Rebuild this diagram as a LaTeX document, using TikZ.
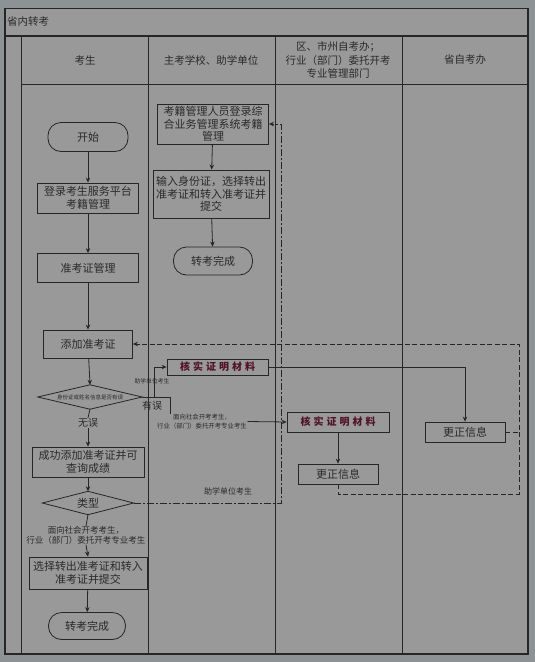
\documentclass[tikz,border=0pt]{standalone}
\usepackage{fontspec}
\setmainfont{Noto Sans CJK SC}
\usetikzlibrary{arrows.meta}
\definecolor{outbg}{RGB}{141,147,149}
\definecolor{inbg}{RGB}{153,153,153}
\definecolor{ln}{RGB}{38,38,38}
\definecolor{tx}{RGB}{42,42,42}
\definecolor{redt}{RGB}{80,18,38}
\newcommand{\fsz}[2]{\fontsize{#1pt}{#2pt}\selectfont}
\begin{document}
\begin{tikzpicture}[x=1pt,y=-1pt,
  every node/.style={text=tx},
  box/.style={draw=ln, line width=0.8pt, align=center, inner sep=1pt, font=\fsz{11}{12.5}},
  term/.style={box, rounded corners=13pt},
  dec/.style={inner sep=0pt, align=center},
  redbox/.style={draw=ln, line width=0.8pt, inner sep=1pt, font=\fsz{10}{12}\bfseries, text=redt},
  lbl/.style={align=center, inner sep=0.5pt},
  arr/.style={draw=ln, line width=0.8pt, -{Stealth[length=5pt,width=4.5pt]}},
  lin/.style={draw=ln, line width=0.8pt},
  dsh/.style={draw=ln, line width=0.9pt, dash pattern=on 5pt off 2.5pt},
  dshd/.style={draw=ln, line width=0.9pt, dash pattern=on 7pt off 2pt on 2pt off 2pt},
  lane/.style={draw=ln, line width=0.9pt}
]
\useasboundingbox (0,0) rectangle (535,662);
\fill[outbg] (0,0) rectangle (535,662);
\fill[inbg] (5,8.5) rectangle (528,654);
% frame and lanes
\draw[lane, line width=1.1pt] (5,8.5) rectangle (528,654);
\draw[lane, line width=1.1pt] (5,36) -- (528,36);
\draw[lane] (21,84) -- (528,84);
\foreach \xx in {21,148,275,402} \draw[lane] (\xx,36) -- (\xx,654);
\node[anchor=west, font=\fsz{10.5}{12}, inner sep=0pt] (title) at (7,22) {省内转考};
% headers
\node[lbl, font=\fsz{10.5}{13}] (h1) at (85,60) {考生};
\node[lbl, font=\fsz{10.5}{13}] (h2) at (211,60) {主考学校、助学单位};
\node[lbl, font=\fsz{10.5}{13.5}] (h3) at (338,60) {区、市州自考办；\\行业（部门）委托开考\\专业管理部门};
\node[lbl, font=\fsz{10.5}{13}] (h4) at (465,60) {省自考办};

% lane 1
\node[term, minimum width=80pt, minimum height=29pt] (start) at (88,137) {开始};
\node[box, minimum width=101pt, minimum height=30pt] (login) at (88,198) {登录考生服务平台\\考籍管理};
\node[box, minimum width=101pt, minimum height=29pt] (zkz) at (88,268) {准考证管理};
\node[box, minimum width=89pt, minimum height=28pt] (add) at (88,344) {添加准考证};
\node[dec, minimum width=104pt, minimum height=24pt, font=\fsz{5.5}{6}] (chk) at (90,397) {身份证或姓名信息是否有误};
\draw[lin] (chk.north) -- (chk.east) -- (chk.south) -- (chk.west) -- cycle;
\node[box, minimum width=112pt, minimum height=30pt] (ok) at (88,462) {成功添加准考证并可\\查询成绩};
\node[dec, minimum width=91pt, minimum height=23pt, font=\fsz{11}{12}] (typ) at (88,503) {类型};
\draw[lin] (typ.north) -- (typ.east) -- (typ.south) -- (typ.west) -- cycle;
\node[box, minimum width=118pt, minimum height=32pt] (sel) at (88,573) {选择转出准考证和转入\\准考证并提交};
\node[term, minimum width=77pt, minimum height=27pt] (done1) at (87,626) {转考完成};

% lane 2
\node[box, minimum width=111pt, minimum height=40pt] (sys) at (213,124) {考籍管理人员登录综\\合业务管理系统考籍\\管理};
\node[box, minimum width=116pt, minimum height=48pt] (inp) at (211,194) {输入身份证，选择转出\\准考证和转入准考证并\\提交};
\node[term, minimum width=79pt, minimum height=28pt] (done2) at (213,261) {转考完成};
\node[redbox, minimum width=101pt, minimum height=16pt] (k1) at (217.5,367) {核\hspace{3pt}实\hspace{3pt}证\hspace{3pt}明\hspace{3pt}材\hspace{3pt}料};

% lane 3
\node[redbox, minimum width=102pt, minimum height=20pt] (k2) at (338,422) {核\hspace{3pt}实\hspace{3pt}证\hspace{3pt}明\hspace{3pt}材\hspace{3pt}料};
\node[box, minimum width=80pt, minimum height=20pt] (gz2) at (338,474) {更正信息};

% lane 4
\node[box, minimum width=80pt, minimum height=20pt] (gz1) at (465,432) {更正信息};

% labels
\node[lbl, font=\fsz{10}{12}] (yw) at (152,406) {有误};
\node[lbl, font=\fsz{10}{12}, fill=inbg] (ww) at (88,423) {无误};
\node[lbl, font=\fsz{5.8}{7}] (zx1) at (152,381) {助学单位考生};
\node[lbl, font=\fsz{6.4}{8.5}] (ms) at (202,421.5) {面向社会开考考生，\\行业（部门）委托开考专业考生};
\node[lbl, font=\fsz{8}{10}] (zx2) at (228,491) {助学单位考生};
\node[lbl, font=\fsz{8.5}{9.5}, fill=inbg] (ms2) at (86,535.5) {面向社会开考考生，\\行业（部门）委托开考专业考生};

% coordinates
\coordinate (bA) at (154,397);
\coordinate (bB) at (170,397);
\coordinate (R) at (519,494);
\coordinate (V) at (281,503);

% lane 1 flow
\draw[arr] (start) -- (login);
\draw[arr] (login) -- (zkz);
\draw[arr] (zkz) -- (add);
\draw[arr] (add) -- (chk.north);
\draw[lin] (chk.south) -- (ww.north);
\draw[arr] (ww.south) -- (ok.north);
\draw[arr] (ok) -- (typ.north);
\draw[lin] (typ.south) -- (ms2.north);
\draw[arr] (ms2.south) -- (sel.north);
\draw[arr] (sel) -- (done1);

% lane 2 flow
\draw[arr] (sys) -- (inp);
\draw[arr] (inp) -- (done2);

% error branches
\draw[lin] (chk.east) -- (bB) -- (bB |- ms.north);
\draw[arr] (bA) |- (k1.west);
\draw[arr] (ms.east) -- (k2.west);
\draw[arr] (k1.east) -| (gz1.north);
\draw[arr] (k2) -- (gz2);

% dashed returns
\draw[dsh, -{Stealth[length=5pt,width=4.5pt]}] (gz2.south) |- (R) |- (add.east);
\draw[dsh] (gz1.east) -- (gz1.east -| R);
\draw[dshd, -{Stealth[length=5pt,width=4.5pt]}] (typ.east) -- (V) |- (sys.east);
\end{tikzpicture}
\end{document}
